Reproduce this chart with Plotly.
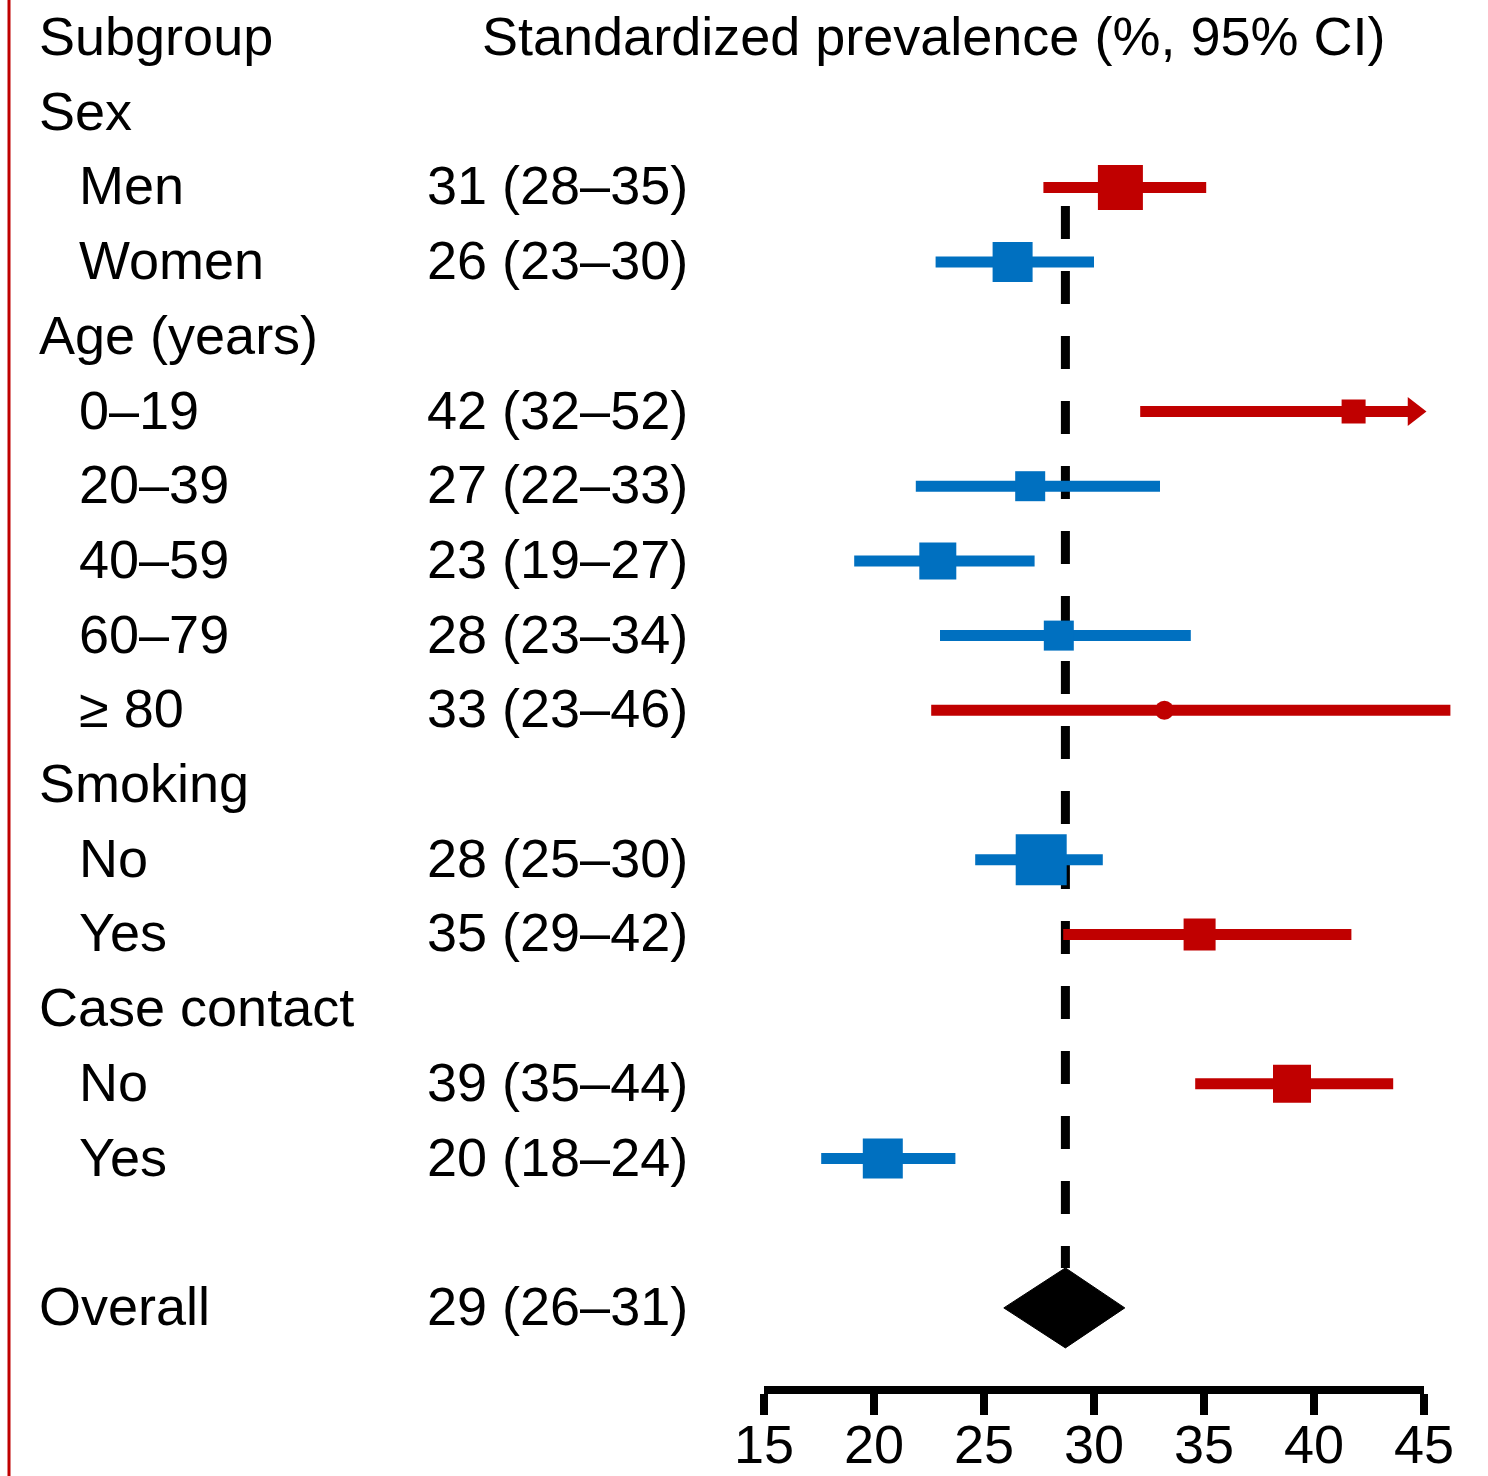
import plotly.graph_objects as go

# ---------------------------------------------------------------- data
group_names = ["Sex", "Age (years)", "Smoking", "Case contact"]
group_members = [2, 5, 2, 2]  # subgroups listed under each heading
subgroups = ["Men", "Women", "0–19", "20–39", "40–59", "60–79", "≥ 80",
             "No", "Yes", "No", "Yes"]
estimate = [31.2, 26.3, 41.8, 27.1, 22.9, 28.4, 33.2, 27.6, 34.8, 39.0, 20.4]
ci_low = [27.7, 22.8, 32.1, 21.9, 19.1, 23.0, 22.6, 24.6, 28.6, 34.6, 17.6]
ci_high = [35.1, 30.0, 52.0, 33.0, 27.3, 34.4, 46.2, 30.4, 41.7, 43.6, 23.7]

overall_label = "Overall"
overall_est, overall_low, overall_high = 28.7, 25.9, 31.4

axis_ticks = [15, 20, 25, 30, 35, 40, 45]

# ---------------------------------------------------------------- styling
FIG_W, FIG_H = 1488, 1476
FONT = "Liberation Sans, Arial, sans-serif"
FONT_SIZE = 54
RED = "#C00000"
BLUE = "#0070C0"
box_px = [45, 40, 24, 30, 37, 30, 19, 51, 32, 38, 40]  # square size ~ study weight
box_symbol = ["square"] * 6 + ["circle"] + ["square"] * 4
CI_WIDTH = 11
CLIP_HI = 47.0        # intervals reaching past this are truncated with an arrow
ARROW_TIP = 45.2
ARROW_SIZE = 25

# pixel geometry of the figure
X_LEFT_PX, X_RIGHT_PX = 764, 1424   # where 15 and 45 fall
PLOT_BOTTOM_PX = 1386               # top edge of the x-axis line
ROW0_PX, ROW_STEP = 38, 74.7        # centre of header row, row pitch
TEXT_SHIFT_PX = -2                  # nudges label baselines onto the rows
COL_NAME_PX, COL_SUB_PX, COL_EST_PX, COL_HEAD_PX = 37, 77, 425, 480

x_lo, x_hi = axis_ticks[0], axis_ticks[-1]
px_per_unit = (X_RIGHT_PX - X_LEFT_PX) / (x_hi - x_lo)
# wide data axis spans the full width with the same scale as the drawn axis,
# so intervals running past 45 are not clipped
wide_x_range = [x_lo - X_LEFT_PX / px_per_unit,
                x_lo + (FIG_W - X_LEFT_PX) / px_per_unit]


def fmt(v):
    return str(int(v + 0.5))


def est_text(e, lo, hi):
    return f"{fmt(e)} ({fmt(lo)}–{fmt(hi)})"


# ---------------------------------------------------------------- row layout
heading_rows, sub_rows = [], []
r = 1
for name, n in zip(group_names, group_members):
    heading_rows.append(r)
    r += 1
    for _ in range(n):
        sub_rows.append(r)
        r += 1
overall_row = r + 1  # one blank row before the summary

annotations = []


def add_text(txt, x_px, row):
    annotations.append(dict(
        text=txt, x=x_px / FIG_W, xref="paper",
        y=row + TEXT_SHIFT_PX / ROW_STEP, yref="y",
        xanchor="left", yanchor="middle", showarrow=False,
        font=dict(family=FONT, size=FONT_SIZE, color="black")))


add_text("Subgroup", COL_NAME_PX, 0)
add_text("Standardized prevalence (%, 95% CI)", COL_HEAD_PX, 0)
for name, row in zip(group_names, heading_rows):
    add_text(name, COL_NAME_PX, row)
for name, row, e, lo, hi in zip(subgroups, sub_rows, estimate, ci_low, ci_high):
    add_text(name, COL_SUB_PX, row)
    add_text(est_text(e, lo, hi), COL_EST_PX, row)
add_text(overall_label, COL_NAME_PX, overall_row)
add_text(est_text(overall_est, overall_low, overall_high), COL_EST_PX, overall_row)

# ---------------------------------------------------------------- traces
colors = [RED if e > overall_est else BLUE for e in estimate]

fig = go.Figure()

# subgroup intervals and boxes on the wide axis (x2)
arrow_offset = (ARROW_SIZE / 2) * 2 / 3 ** 0.5 / px_per_unit  # centre-to-tip distance
for row, lo, hi, c in zip(sub_rows, ci_low, ci_high, colors):
    end = hi if hi <= CLIP_HI else ARROW_TIP - arrow_offset
    fig.add_trace(go.Scatter(
        x=[lo, end], y=[row, row], mode="lines", xaxis="x2", yaxis="y",
        line=dict(color=c, width=CI_WIDTH),
        hoverinfo="skip", showlegend=False))
    if hi > CLIP_HI:
        fig.add_trace(go.Scatter(
            x=[ARROW_TIP - arrow_offset], y=[row], mode="markers",
            xaxis="x2", yaxis="y",
            marker=dict(symbol="triangle-right", size=ARROW_SIZE, color=c,
                        opacity=1, line=dict(width=0)),
            hoverinfo="skip", showlegend=False))

fig.add_trace(go.Scatter(
    x=estimate, y=sub_rows, mode="markers", xaxis="x2", yaxis="y",
    marker=dict(symbol=box_symbol, size=box_px, color=colors, opacity=1,
                line=dict(width=0)),
    hoverinfo="skip", showlegend=False))

# summary diamond on the drawn prevalence axis (x)
half_h = 40 / ROW_STEP
fig.add_trace(go.Scatter(
    x=[overall_low, overall_est, overall_high, overall_est, overall_low],
    y=[overall_row, overall_row - half_h, overall_row, overall_row + half_h, overall_row],
    mode="lines", fill="toself", fillcolor="black", xaxis="x", yaxis="y",
    line=dict(color="black", width=1), cliponaxis=False,
    hoverinfo="skip", showlegend=False))

# reference line at the overall estimate
fig.add_shape(type="line", xref="x", yref="y", layer="below",
              x0=overall_est, x1=overall_est,
              y0=sub_rows[0] + (206 - (ROW0_PX + ROW_STEP * sub_rows[0])) / ROW_STEP,
              y1=overall_row - half_h,
              line=dict(color="black", width=9, dash="33px,32px"))

# thin red rule along the left edge
fig.add_shape(type="line", xref="paper", yref="paper", x0=9 / FIG_W, x1=9 / FIG_W,
              y0=0, y1=1, line=dict(color=RED, width=3))

fig.update_layout(annotations=annotations)

# ---------------------------------------------------------------- axes
y_top = (0 - ROW0_PX) / ROW_STEP
y_bot = (PLOT_BOTTOM_PX - ROW0_PX) / ROW_STEP
y_domain = [(FIG_H - PLOT_BOTTOM_PX) / FIG_H, 1]

fig.update_layout(
    width=FIG_W, height=FIG_H, autosize=False,
    margin=dict(l=0, r=0, t=0, b=0, pad=0, autoexpand=False),
    paper_bgcolor="white", plot_bgcolor="rgba(0,0,0,0)",
    # the drawn prevalence axis, 15 to 45
    xaxis=dict(domain=[X_LEFT_PX / FIG_W, X_RIGHT_PX / FIG_W], range=[x_lo, x_hi],
               anchor="y", side="bottom",
               tickmode="array", tickvals=axis_ticks,
               ticktext=[str(t) for t in axis_ticks],
               showline=True, linewidth=8, linecolor="black",
               ticks="outside", ticklen=21, tickwidth=8, tickcolor="black",
               ticklabelstandoff=-17, automargin=False,
               showgrid=False, zeroline=False, fixedrange=True,
               tickfont=dict(family=FONT, size=FONT_SIZE, color="black")),
    # invisible full-width axis at the same scale
    xaxis2=dict(domain=[0, 1], range=wide_x_range, anchor="y", visible=False,
                automargin=False, showgrid=False, zeroline=False, fixedrange=True),
    yaxis=dict(domain=y_domain, range=[y_bot, y_top], anchor="x",
               visible=False, automargin=False,
               showgrid=False, zeroline=False, fixedrange=True),
    showlegend=False,
)

fig.write_html("out.html")
